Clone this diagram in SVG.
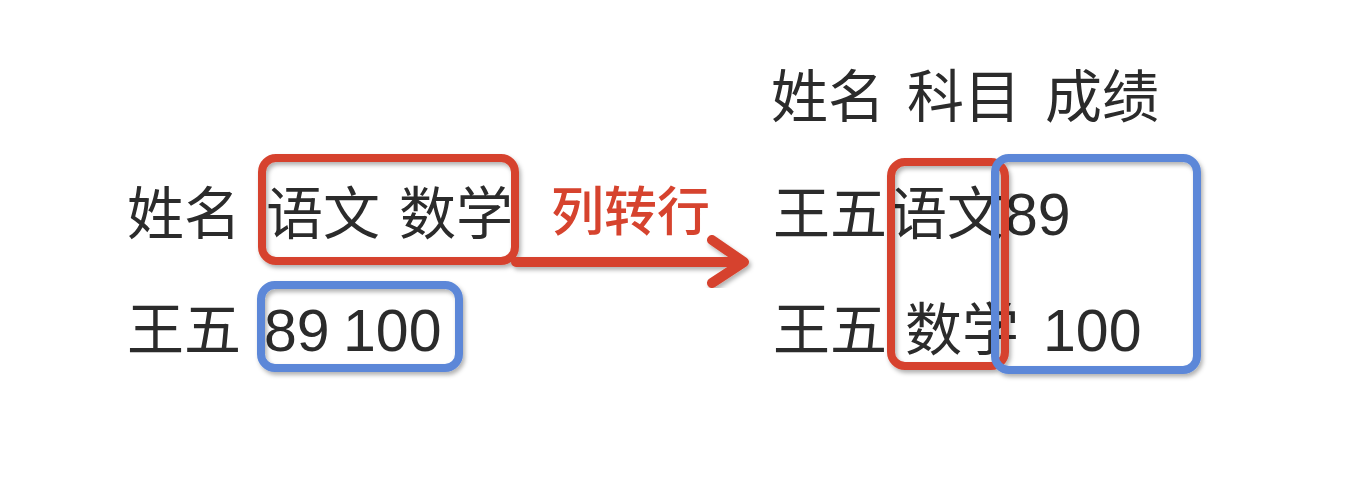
<svg xmlns="http://www.w3.org/2000/svg" width="1366" height="480" viewBox="0 0 1366 480">
<style>
.t{font-family:"Liberation Sans","Noto Sans CJK SC",sans-serif;font-size:57px;fill:#2b2b2b}
.d{font-size:59px}
.lbl{font-family:"Noto Sans CJK SC",sans-serif;font-size:53px;fill:#d6432e;font-weight:500}
.red{fill:none;stroke:#d6432e;stroke-width:8}
.blue{fill:none;stroke:#5b87d8;stroke-width:8}
</style>
<defs>
<filter id="sh" x="-10%" y="-10%" width="120%" height="120%">
<feDropShadow dx="2" dy="3" stdDeviation="2" flood-color="#000" flood-opacity="0.3"/>
</filter>
</defs>
<rect width="1366" height="480" fill="#fff"/>
<g id="left-table">
<text class="t" x="127" y="234">姓名</text>
<text class="t" x="266" y="234">语文</text>
<text class="t" x="399" y="234">数学</text>
<text class="t" x="127" y="350">王五</text>
<text class="t d" x="264" y="351">89</text>
<text class="t d" x="343" y="351">100</text>
</g>
<g id="right-table">
<text class="t" x="771" y="117">姓名</text>
<text class="t" x="907" y="117">科目</text>
<text class="t" x="1045" y="117">成绩</text>
<text class="t" x="773" y="234">王五</text>
<text class="t" x="890" y="234">语文</text>
<text class="t d" x="1005" y="235">89</text>
<text class="t" x="905" y="350">数学</text>
<text class="t" x="773" y="350">王五</text>
<text class="t d" x="1043" y="351">100</text>
</g>
<g id="highlights" filter="url(#sh)">
<rect class="red" x="262" y="158" width="253" height="103" rx="14"/>
<rect class="blue" x="261" y="285" width="198" height="83" rx="14"/>
<rect class="red" x="891" y="162" width="114" height="204" rx="14"/>
<rect class="blue" x="995" y="158" width="202" height="212" rx="14"/>
</g>
<g id="connectors" filter="url(#sh)">
<path d="M516 262 H742 M712 240 L744 262 L712 283" fill="none" stroke="#d6432e" stroke-width="10" stroke-linecap="round" stroke-linejoin="round"/>
</g>
<g id="label">
<text class="lbl" x="551" y="231">列转行</text>
</g>
</svg>
